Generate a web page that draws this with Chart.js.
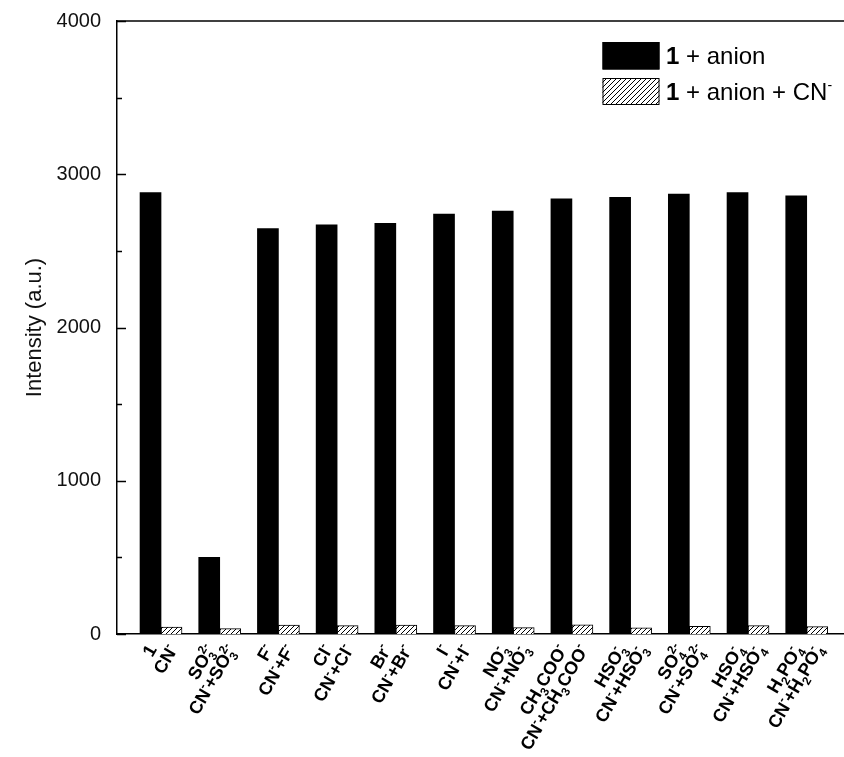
<!DOCTYPE html>
<html>
<head>
<meta charset="utf-8">
<script src="https://cdn.jsdelivr.net/npm/chart.js@4/dist/chart.umd.min.js"></script>
<style>
  html, body { margin: 0; padding: 0; background: #fff; }
  #wrap { width: 844px; height: 757px; }
</style>
</head>
<body>
<div id="wrap"><canvas id="chart" width="844" height="757"></canvas></div>
<script>
// Anion groups (one black and one hatched bar each)
const groups = ['1', 'SO3', 'F', 'Cl', 'Br', 'I', 'NO3', 'CH3COO', 'HSO3', 'SO4', 'HSO4', 'H2PO4'];

// Emission intensity of 1 with each anion, and with anion + CN-
const anionValues   = [2880, 500, 2645, 2670, 2680, 2740, 2760, 2840, 2850, 2870, 2880, 2860];
const anionCNValues = [45, 35, 58, 55, 58, 55, 42, 60, 40, 50, 55, 48];

// Series names (*{} bold, ^{} superscript, _{} subscript)
const seriesNames = ['*{1} + anion', '*{1} + anion + CN^{-}'];

// Bottom tick labels, two per group: black bar then hatched bar
const tickLabels = [
  '1', 'CN^{-}',
  'SO_{3}^{2-}', 'CN^{-}+SO_{3}^{2-}',
  'F^{-}', 'CN^{-}+F^{-}',
  'Cl^{-}', 'CN^{-}+Cl^{-}',
  'Br^{-}', 'CN^{-}+Br^{-}',
  'I^{-}', 'CN^{-}+I^{-}',
  'NO_{3}^{-}', 'CN^{-}+NO_{3}^{-}',
  'CH_{3}COO^{-}', 'CN^{-}+CH_{3}COO^{-}',
  'HSO_{3}^{-}', 'CN^{-}+HSO_{3}^{-}',
  'SO_{4}^{2-}', 'CN^{-}+SO_{4}^{2-}',
  'HSO_{4}^{-}', 'CN^{-}+HSO_{4}^{-}',
  'H_{2}PO_{4}^{-}', 'CN^{-}+H_{2}PO_{4}^{-}'
];

const yTitle = 'Intensity (a.u.)';
const yMax = 4000, yMajor = 1000, yMinor = 500;

const FONT = "'Liberation Sans', Arial, Helvetica, sans-serif";

// Diagonal hatch fill
function makeHatch() {
  const s = 5;
  const c = document.createElement('canvas');
  c.width = s; c.height = s;
  const g = c.getContext('2d');
  g.fillStyle = '#fff';
  g.fillRect(0, 0, s, s);
  g.strokeStyle = '#000';
  g.lineWidth = 1;
  g.beginPath();
  g.moveTo(-1, s + 1); g.lineTo(s + 1, -1);
  g.moveTo(-1, 1); g.lineTo(1, -1);
  g.moveTo(s - 1, s + 1); g.lineTo(s + 1, s - 1);
  g.stroke();
  return g.createPattern(c, 'repeat');
}
const hatch = makeHatch();

// --- small rich-text helper ---
function parseRich(s) {
  const re = /([_^*])\{([^}]*)\}|([^_^*{}]+)/g;
  const out = [];
  let m;
  while ((m = re.exec(s))) {
    if (m[3]) out.push({ t: m[3], k: 'n' });
    else out.push({ t: m[2], k: m[1] === '_' ? 'sub' : (m[1] === '^' ? 'sup' : 'bold') });
  }
  return out;
}
function fontFor(kind, st) {
  const script = kind === 'sub' || kind === 'sup';
  const size = script ? st.script : st.size;
  const weight = (kind === 'bold' || st.bold) ? 'bold ' : '';
  return weight + size + 'px ' + FONT;
}
function layoutRich(ctx, parts, st) {
  const items = [];
  let x = 0, i = 0;
  const w = p => { ctx.font = fontFor(p.k, st); return ctx.measureText(p.t).width; };
  const isScript = k => k === 'sub' || k === 'sup';
  while (i < parts.length) {
    const p = parts[i], q = parts[i + 1];
    if (isScript(p.k) && q && isScript(q.k) && q.k !== p.k) {
      items.push({ ...p, x }); items.push({ ...q, x });
      x += Math.max(w(p), w(q));
      i += 2;
    } else {
      items.push({ ...p, x });
      x += w(p);
      i++;
    }
  }
  return { items, width: x };
}
function drawRich(ctx, lay, x0, yMid, st) {
  const base = yMid + st.size * 0.36;
  ctx.textBaseline = 'alphabetic';
  ctx.textAlign = 'left';
  for (const it of lay.items) {
    ctx.font = fontFor(it.k, st);
    let y = base;
    if (it.k === 'sub') y = base + st.size * 0.28;
    if (it.k === 'sup') y = base - st.size * 0.42;
    ctx.fillText(it.t, x0 + it.x, y);
  }
}

// Frame top line, inward y ticks, rotated bottom labels and legend
const decorations = {
  id: 'decorations',
  afterDraw(chart) {
    const { ctx, chartArea: a, scales: { y } } = chart;
    ctx.save();
    ctx.strokeStyle = '#000';
    ctx.lineWidth = 1.5;
    ctx.beginPath();
    ctx.moveTo(a.left, a.top);
    ctx.lineTo(a.right, a.top);
    ctx.stroke();

    for (let v = 0; v <= yMax; v += yMinor) {
      const py = Math.round(y.getPixelForValue(v)) + 0.5;
      const len = v % yMajor === 0 ? 9 : 5;
      ctx.beginPath();
      ctx.moveTo(a.left, py);
      ctx.lineTo(a.left + len, py);
      ctx.stroke();
    }

    // bottom labels
    ctx.fillStyle = '#000';
    const st = { size: 18, script: 12, bold: true };
    tickLabels.forEach((lab, j) => {
      const bar = chart.getDatasetMeta(j % 2).data[Math.floor(j / 2)];
      const lay = layoutRich(ctx, parseRich(lab), st);
      ctx.save();
      ctx.translate(bar.x + 1, a.bottom + 12);
      ctx.rotate(-Math.PI / 3);
      drawRich(ctx, lay, -lay.width, 0, st);
      ctx.restore();
    });

    // legend
    const lx = 602.5, lw = 57;
    const rows = [{ top: 42, h: 27.5 }, { top: 78, h: 27 }];
    const lst = { size: 24, script: 14, bold: false };
    chart.data.datasets.forEach((ds, k) => {
      const r = rows[k];
      ctx.fillStyle = ds.backgroundColor;
      ctx.fillRect(lx, r.top, lw, r.h);
      ctx.strokeStyle = '#000';
      ctx.lineWidth = 1;
      ctx.strokeRect(lx + 0.5, r.top + 0.5, lw - 1, r.h - 1);
      ctx.fillStyle = '#000';
      const lay = layoutRich(ctx, parseRich(seriesNames[k]), lst);
      drawRich(ctx, lay, 666, r.top + r.h / 2, lst);
    });
    ctx.restore();
  }
};

const toPoints = vals => vals.map((v, i) => ({ x: i + 1, y: v }));

new Chart(document.getElementById('chart'), {
  type: 'bar',
  data: {
    datasets: [
      {
        label: '1 + anion',
        data: toPoints(anionValues),
        backgroundColor: '#000',
        borderWidth: 0,
        barThickness: 21
      },
      {
        label: '1 + anion + CN-',
        data: toPoints(anionCNValues),
        backgroundColor: hatch,
        borderColor: '#000',
        borderWidth: 1,
        barThickness: 21
      }
    ]
  },
  options: {
    responsive: false,
    animation: false,
    devicePixelRatio: 1,
    layout: { padding: { left: 0, right: 0, top: 21, bottom: 123 } },
    plugins: { legend: { display: false }, tooltip: { enabled: false } },
    scales: {
      x: {
        type: 'linear',
        offset: false,
        min: 0.25,
        max: 12.635,
        ticks: { display: false },
        grid: { display: false, drawTicks: false },
        border: { display: true, color: '#000', width: 1.5 },
        afterFit(s) { s.height = 0; s.paddingLeft = 0; s.paddingRight = 0; }
      },
      y: {
        min: 0,
        max: yMax,
        ticks: {
          stepSize: yMajor,
          padding: 16,
          color: '#111',
          font: { family: FONT, size: 20 },
          callback: v => String(v)
        },
        grid: { display: false, drawTicks: false },
        border: { display: true, color: '#000', width: 1.5 },
        title: {
          display: true,
          text: yTitle,
          color: '#111',
          font: { family: FONT, size: 22 },
          padding: { top: 22, bottom: 0 }
        },
        afterFit(s) { s.width = 117; s.paddingTop = 0; s.paddingBottom = 0; }
      }
    }
  },
  plugins: [decorations]
});
</script>
</body>
</html>
